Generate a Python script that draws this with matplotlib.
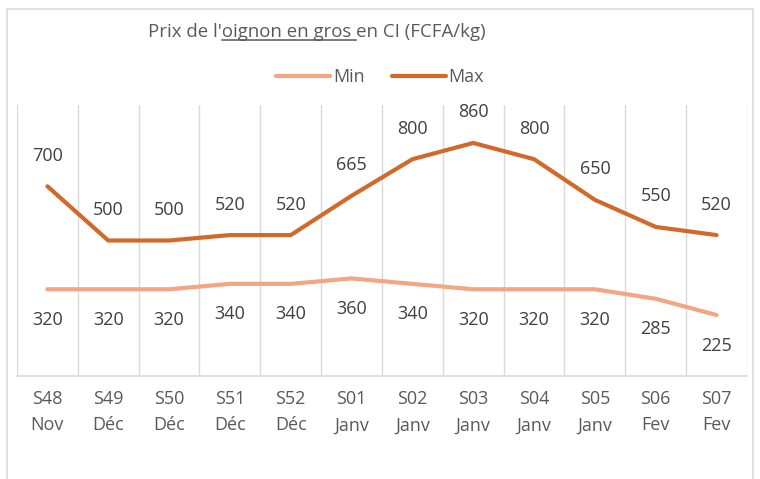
import matplotlib
matplotlib.use("Agg")
import matplotlib.pyplot as plt
from matplotlib.patches import Rectangle

weeks = ["S48", "S49", "S50", "S51", "S52", "S01", "S02", "S03", "S04", "S05", "S06", "S07"]
months = ["Nov", "Déc", "Déc", "Déc", "Déc", "Janv", "Janv", "Janv", "Janv", "Janv", "Fev", "Fev"]
min_vals = [320, 320, 320, 340, 340, 360, 340, 320, 320, 320, 285, 225]
max_vals = [700, 500, 500, 520, 520, 665, 800, 860, 800, 650, 550, 520]

plt.rcParams['font.family'] = ['Open Sans', 'DejaVu Sans']

W, H = 760, 479
fig = plt.figure(figsize=(W / 100, H / 100), dpi=100)
fig.patch.set_facecolor("white")

# outer border
fig.patches.append(Rectangle((7 / W, -0.01), (753 - 7) / W, 1.01 - 9 / H,
                             transform=fig.transFigure, fill=False,
                             edgecolor="#D9D9D9", linewidth=1.2))

left, right, top, bottom = 17, 747, 105, 376
ax = fig.add_axes([left / W, 1 - bottom / H, (right - left) / W, (bottom - top) / H])

c_min = "#F3A584"
c_max = "#D2692B"
x = list(range(len(weeks)))
ax.plot(x, min_vals, color=c_min, linewidth=3, solid_capstyle="round", label="Min")
ax.plot(x, max_vals, color=c_max, linewidth=3, solid_capstyle="round", label="Max")

ax.set_xlim(-0.5, len(weeks) - 0.5)
ax.set_ylim(0, 1000)
for b in range(len(weeks) + 1):
    ax.axvline(b - 0.5, color="#D9D9D9", linewidth=1, zorder=0)
for s in ["top", "left", "right"]:
    ax.spines[s].set_visible(False)
ax.spines["bottom"].set_color("#D9D9D9")
ax.spines["bottom"].set_linewidth(1.2)
ax.set_yticks([])
ax.set_xticks(x)
ax.set_xticklabels([f"{w}\n{m}" for w, m in zip(weeks, months)], fontsize=13,
                   color="#595959", linespacing=1.6)
ax.tick_params(axis="x", length=0, pad=10)

for xi, v in zip(x, max_vals):
    ax.annotate(str(v), (xi, v), xytext=(0, 22), textcoords="offset points",
                ha="center", va="center", fontsize=13, color="#404040")
for xi, v in zip(x, min_vals):
    ax.annotate(str(v), (xi, v), xytext=(0, -22), textcoords="offset points",
                ha="center", va="center", fontsize=13, color="#404040")

# legend
fig.legend(handles=ax.get_lines(), labels=["Min", "Max"], loc="center",
           bbox_to_anchor=(380 / W, 1 - 77 / H), ncol=2, frameon=False,
           fontsize=13, handlelength=3.0, columnspacing=1.5, handletextpad=0.15,
           labelcolor="#595959")

# title with underlined part
parts = ["Prix de l'", "oignon en gros ", "en CI (FCFA/kg)"]
full = "".join(parts)
fs = 13.4
tx, ty = 148 / W, 1 - 32 / H
t = fig.text(tx, ty, full, fontsize=fs, color="#595959", ha="left", va="center")
fig.canvas.draw()
r = fig.canvas.get_renderer()
t0 = fig.text(tx, ty, parts[0], fontsize=fs, ha="left", va="center", alpha=0)
t1 = fig.text(tx, ty, parts[0] + parts[1], fontsize=fs, ha="left", va="center", alpha=0)
e_full = t.get_window_extent(r)
e0 = t0.get_window_extent(r)
e1 = t1.get_window_extent(r)
uy = e_full.y0 + 1.5
fig.lines.append(plt.Line2D([e0.x1 / W, e1.x1 / W], [uy / H, uy / H],
                            transform=fig.transFigure, color="#595959", linewidth=1.1))

fig.savefig("out.png", dpi=100, facecolor="white")
